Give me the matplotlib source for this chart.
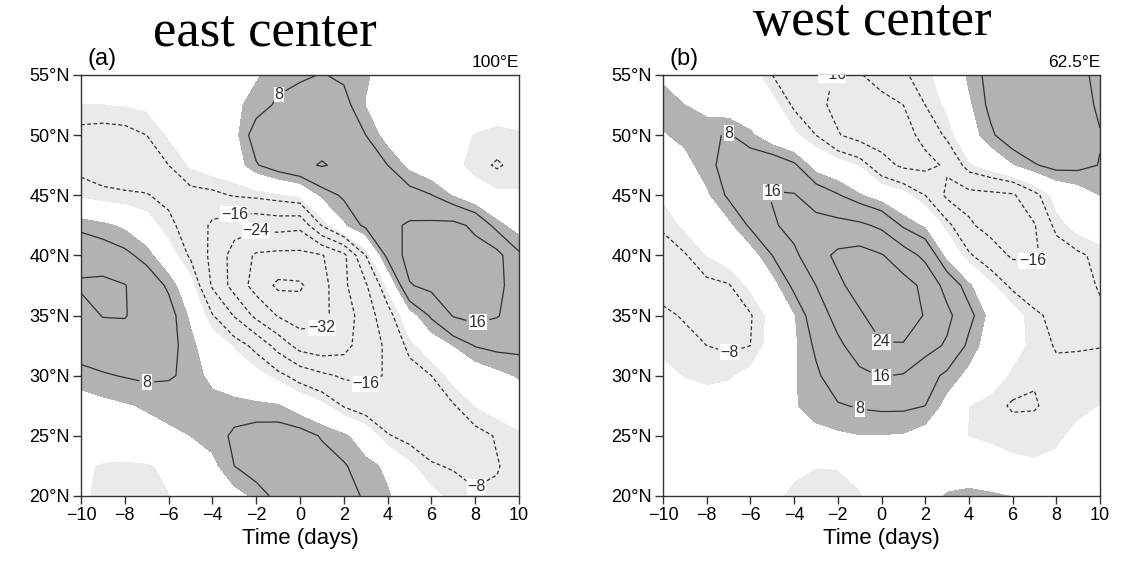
import matplotlib.pyplot as plt
import numpy as np

# grid: time (days) and latitude rows, top row is 55N
days = np.arange(-10, 11, 1)
lats = np.array([55, 52.5, 50, 47.5, 45, 42.5, 40, 37.5, 35, 32.5, 30, 27.5, 25, 22.5, 20])

# (a) east center, 100E
east = np.array([
    [0, 0, 1, 1, 1, 1, 2, 3, 3.5, 6, 7, 8.3, 7, 4.5, 2, 1, 0, -1, -1, -1, -1],
    [-4.2, -4.2, -3.8, -3, -1.5, 0, 1, 3, 5.5, 9, 11, 12, 10, 3.8, 1, 0, -1, -1.5, -2, -2, -2.5],
    [-10, -10.5, -10, -8, -3.5, -1, 0, 2.2, 11.1, 13, 13, 13, 11, 8, 1.5, -1, -2, -3, -4.2, -5, -4.3],
    [-10, -11.5, -11.5, -10.5, -8, -3.5, -1, 0.5, 7.5, 11.5, 14.5, 16.5, 14.5, 11.5, 8, 2.5, -0.5, -2.5, -6, -8.7, -6],
    [-5, -6.5, -7.3, -7.8, -9, -10, -9.5, -7.5, -6.5, -5, -3, 5, 9, 11, 11.5, 10.5, 8.2, 3.5, -1, -3, -3.5],
    [6.5, 5, 3, -1, -7, -10, -17.5, -21, -22, -21, -22, -7.5, 3, 9.5, 14, 17, 17.5, 18, 14.5, 5.5, 1.5],
    [13, 11.5, 9.5, 6, -1, -9, -18, -27, -33, -34, -34, -32.5, -26, -8, 10, 19, 19, 19.5, 19, 18.5, 9],
    [17, 18, 16.3, 12, 7, -1.5, -17, -27, -35, -41.5, -41, -35, -25.5, -17, -3, 15.5, 18, 20, 20, 18, 12],
    [13, 16.3, 16.5, 12, 10.5, 3, -7.5, -16.5, -26, -32.5, -36, -34, -28, -20, -11, 1, 9, 16.5, 18.5, 16.5, 12],
    [10.5, 11.5, 11.5, 11, 10, 5.5, -0.5, -4.5, -10, -19, -27, -29, -27, -19, -15, -6, 0, 4, 8.3, 9.5, 9.5],
    [6.5, 7.5, 8.3, 9, 8.5, 7, 2, -1, -2, -6, -11, -14.5, -17, -17.5, -15.5, -11, -8, -2, 0, 2.5, 4.5],
    [1, 2.5, 3.5, 4.5, 5.5, 6.5, 6.5, 6, 5, 4.5, 1, -2.5, -8.5, -12, -13, -12.5, -11, -8.5, -4, -1.5, 0],
    [0, 0.5, 1, 2, 3, 4, 6, 8.8, 10.5, 11, 10.5, 7.5, 5, 0.5, -7.5, -10, -11, -11, -10, -7.5, -5],
    [-3, -4.6, -5, -4.6, -3, 0, 2.5, 8, 11.5, 12.5, 12, 10.5, 8.5, 5.5, 3, -3, -7.5, -8.5, -9, -8.3, -6],
    [-3.5, -4.8, -5.2, -5, -4.2, -2, -0.5, 2, 5, 10, 11.5, 11, 9.5, 7.5, 4.5, 1, -2.5, -5.5, -7.6, -7.3, -6],
])

# (b) west center, 62.5E
west = np.array([
    [3, 2, 1, 0, -1, -8, -11, -13, -17, -16.5, -13, -9, -5, -2, 5, 10, 12, 12, 11, 9.2, 6.8],
    [6, 4, 2, 0.5, -1, -2, -9, -14, -18, -20, -18.5, -16, -8, -3, 3, 9.5, 13, 14, 13, 10.5, 7],
    [3.5, 5.5, 7, 8.5, 5, 0, -3, -8, -15.5, -19, -20, -18.5, -14, -6.5, 1, 7, 12, 14, 14, 11, 8.3],
    [-1, 2, 6.5, 10, 12, 12.5, 9, 1.5, -1, -4.5, -13, -17.5, -18, -15, -5, -1, 3.5, 7.5, 10, 9.5, 7.8],
    [-3, -1, 3, 9, 13, 16.5, 16.5, 12, 8.5, 4.5, 1, -2, -8, -17.5, -18.5, -18, -17, -10, -2, 1, 4],
    [-7.5, -3, -0.5, 2.5, 9, 15, 18.5, 19, 18.5, 17.5, 14.5, 7, 3, -6, -15, -18.5, -19, -16.5, -6, -2, 0],
    [-9.5, -8.5, -4, -1, 1, 8, 14.5, 21, 25.5, 27, 24.5, 20, 14, 2, -7, -12.5, -17, -17, -12, -9, -6.5],
    [-10, -10.5, -9.5, -8.5, -3, 1.5, 9.5, 16, 22.5, 27, 28, 26.5, 22.5, 13, 5, -3, -9.5, -11.5, -11.5, -10, -7.5],
    [-7, -8.5, -10, -10.5, -8.5, -2, 3.5, 12, 18.5, 23, 27.5, 28, 23.5, 18, 10, 2, -1, -7, -9.5, -10, -9],
    [-5, -6.5, -8, -9, -8, -1.5, 3, 9, 14.5, 19.5, 23.5, 23.5, 19, 15, 6.5, 1, -2, -5.5, -8.5, -8.6, -8.3],
    [-3, -4.2, -5, -4.6, -2.5, 0, 3.5, 7, 11.5, 14.5, 16.3, 15.5, 11, 6.5, 2.5, -1, -5, -7.5, -6.5, -5.5, -4.5],
    [-1.5, -2, -2, -1.5, 0, 2, 3.5, 6, 7.5, 8.5, 9, 9, 8, 2, -4, -6, -8.7, -8.5, -6, -5, -4],
    [-1, -1, -1, -0.5, 0, 1, 1.5, 2.5, 3.2, 3.8, 3.8, 3.5, 1.5, -1.5, -4.2, -5, -5.5, -5.5, -4.8, -3, -2],
    [-0.5, -0.5, -1, -1.5, -2, -3, -3.5, -3.9, -3.8, -3, -1.5, 0, 0.5, 0.5, 1, -1.5, -3, -3.5, -3, -2, -1],
    [-1, -1, -1.5, -2, -2.5, -3.5, -4.5, -5.5, -5.5, -4.3, -2, 0, 1, 4.5, 5, 4.8, 3.8, 1, -1, -1, -0.5],
])

shade_levels = [-100, -4, 4, 100]
neg_levels = [-40, -32, -24, -16, -8]
pos_levels = [8, 16, 24]

# where the contour labels sit
east_neg_lab = [(-3, 43.5), (-2, 42), (1, 33.6), (3.05, 28.8), (8.1, 20.6)]
east_pos_lab = [(-1, 53.5), (8.1, 34.6), (-7, 29.2)]
west_neg_lab = [(-6.9, 31.7), (6.9, 39.4), (-1.8, 54.9)]
west_pos_lab = [(-7, 50.3), (-5, 45.3), (0, 32.8), (0, 29.9), (-1, 27.1)]

plt.rcParams['font.family'] = 'Liberation Sans'


def fmt(v):
    return ('%d' % v).replace('-', '\u2212')


def lines(ax, field, levels, style, labpos):
    cs = ax.contour(days, lats, field, levels=levels, colors='#303030',
                    linewidths=0.9, linestyles=[style])
    txt = ax.clabel(cs, fmt=fmt, fontsize=11.5, inline=True, inline_spacing=3,
                    manual=labpos)
    for t in txt:
        t.set_rotation(0)
        t.set_bbox(dict(facecolor='white', edgecolor='none', pad=0.4))


def panel(ax, field, neg_lab, pos_lab, tag, lon):
    ax.contourf(days, lats, field, levels=shade_levels,
                colors=['#eaeaea', 'white', '#b2b2b2'])
    lines(ax, field, neg_levels, (0, (3, 2)), neg_lab)
    lines(ax, field, pos_levels, 'solid', pos_lab)
    ax.set_xlim(-10, 10)
    ax.set_ylim(20, 55)
    ax.set_xticks(np.arange(-10, 11, 2))
    ax.set_yticks(np.arange(20, 56, 5))
    ax.set_yticklabels(['%d\u00b0N' % v for v in range(20, 56, 5)])
    ax.tick_params(labelsize=13, length=6, width=1, color='#333333', pad=2)
    for s in ax.spines.values():
        s.set_color('#333333')
        s.set_linewidth(1)
    ax.set_xlabel('Time (days)', fontsize=16, labelpad=3)
    ax.text(0.015, 1.012, tag, transform=ax.transAxes, fontsize=17,
            ha='left', va='bottom')
    ax.text(1.0, 1.012, lon, transform=ax.transAxes, fontsize=12.5,
            ha='right', va='bottom')


fig = plt.figure(figsize=(11.31, 5.64), dpi=100)
ax1 = fig.add_axes([0.0716, 0.1206, 0.3873, 0.7465])
ax2 = fig.add_axes([0.5862, 0.1206, 0.3864, 0.7465])

panel(ax1, east, east_neg_lab, east_pos_lab, '(a)', '100\u00b0E')
panel(ax2, west, west_neg_lab, west_pos_lab, '(b)', '62.5\u00b0E')

fig.text(265 / 1131, 1 - 46 / 564, 'east center', family='Liberation Serif',
         fontsize=38, ha='center', va='baseline')
fig.text(872 / 1131, 1 - 35 / 564, 'west center', family='Liberation Serif',
         fontsize=38, ha='center', va='baseline')

fig.savefig('out.png', dpi=100)
